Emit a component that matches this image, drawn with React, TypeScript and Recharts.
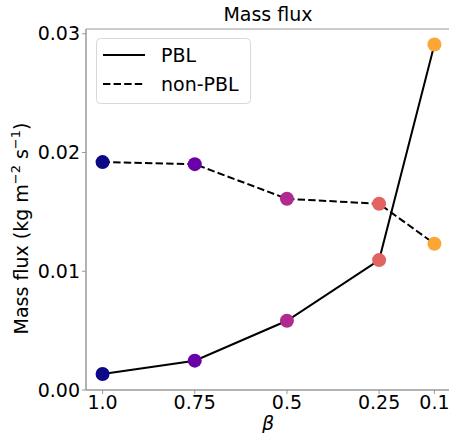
import {
  LineChart,
  Line,
  XAxis,
  YAxis,
  ReferenceArea,
  Legend,
} from 'recharts';

const betas = [1.0, 0.75, 0.5, 0.25, 0.1];
const betaLabels = ['1.0', '0.75', '0.5', '0.25', '0.1'];
const pblFlux = [0.00135, 0.00247, 0.00583, 0.01094, 0.0291];
const nonPblFlux = [0.01919, 0.01902, 0.0161, 0.01568, 0.01232];
const yTicks = [0, 0.01, 0.02, 0.03];
const pointColors = ['#0d0887', '#6a00a8', '#b12a90', '#e16462', '#fca636'];

const FONT = '"DejaVu Sans", sans-serif';
const DASH = '7.4 3.2';

const chartData = betas.map((b, i) => ({
  beta: b,
  pbl: pblFlux[i],
  nonPbl: nonPblFlux[i],
}));

const labelFor = (v: number) => {
  const i = betas.indexOf(v);
  return i >= 0 ? betaLabels[i] : String(v);
};

const ColoredDot = (props: any) => {
  const { cx, cy, index } = props;
  if (cx == null || cy == null) return null;
  return <circle key={index} cx={cx} cy={cy} r={7} fill={pointColors[index]} stroke="none" />;
};

const YLabel = (props: any) => {
  const { viewBox } = props;
  const cy = viewBox.y + viewBox.height / 2 + 19;
  const x = 28;
  return (
    <text
      transform={`rotate(-90, ${x}, ${cy})`}
      x={x}
      y={cy}
      textAnchor="middle"
      fontFamily={FONT}
      fontSize={19}
      fill="#000"
    >
      Mass flux (kg m
      <tspan fontSize={13} dy={-8}>−2</tspan>
      <tspan dy={8}> s</tspan>
      <tspan fontSize={13} dy={-8}>−1</tspan>
      <tspan dy={8}>)</tspan>
    </text>
  );
};

const XLabel = (props: any) => {
  const { viewBox } = props;
  return (
    <text
      x={268}
      y={viewBox.y + 40}
      textAnchor="middle"
      fontFamily={FONT}
      fontSize={19}
      fontStyle="italic"
      fill="#000"
    >
      β
    </text>
  );
};

const LegendBox = () => (
  <svg width={156} height={67} style={{ display: 'block' }}>
    <rect x={0.5} y={0.5} width={154} height={65} rx={4} fill="#fff" stroke="#d8d8d8" />
    <line x1={7} x2={49} y1={17} y2={17} stroke="#000" strokeWidth={2} />
    <text x={65} y={24} fontFamily={FONT} fontSize={19} fill="#000">PBL</text>
    <line x1={7} x2={49} y1={46} y2={46} stroke="#000" strokeWidth={2} strokeDasharray={DASH} />
    <text x={65} y={53} fontFamily={FONT} fontSize={19} fill="#000">non-PBL</text>
  </svg>
);

export default function App() {
  return (
    <div style={{ position: 'absolute', left: 0, top: 0, width: 449, height: 433, overflow: 'hidden', background: '#fff' }}>
      <div
        style={{
          position: 'absolute',
          left: 0,
          top: 3,
          width: 449,
          textAlign: 'center',
          paddingLeft: 87,
          boxSizing: 'border-box',
          fontFamily: FONT,
          fontSize: 19,
          color: '#000',
          lineHeight: '22px',
        }}
      >
        Mass flux
      </div>
      <LineChart
        width={455}
        height={433}
        data={chartData}
        margin={{ top: 29, right: 4, bottom: 0, left: 0 }}
      >
        <ReferenceArea
          x1={1.045}
          x2={0.055}
          y1={0}
          y2={0.0304}
          fill="none"
          stroke="#999"
          strokeWidth={1}
          ifOverflow="visible"
        />
        <XAxis
          dataKey="beta"
          type="number"
          domain={[0.055, 1.045]}
          reversed
          allowDataOverflow
          ticks={betas}
          tickFormatter={labelFor}
          height={43}
          stroke="#999"
          tickSize={4}
          tickLine={{ stroke: '#999' }}
          tick={{ fill: '#000', fontSize: 19, fontFamily: FONT }}
          label={{ content: XLabel }}
        />
        <YAxis
          type="number"
          domain={[0, 0.0304]}
          allowDataOverflow
          ticks={yTicks}
          tickFormatter={(v: number) => v.toFixed(2)}
          width={86}
          stroke="#999"
          tickSize={4}
          tick={{ fill: '#000', fontSize: 19, fontFamily: FONT }}
          label={{ content: YLabel }}
        />
        <Legend
          layout="horizontal"
          verticalAlign="middle"
          align="center"
          wrapperStyle={{ position: 'absolute', left: 96, top: 38, width: 156 }}
          content={LegendBox}
        />
        <Line
          dataKey="pbl"
          stroke="#000"
          strokeWidth={2}
          dot={ColoredDot}
          activeDot={false}
          isAnimationActive={false}
        />
        <Line
          dataKey="nonPbl"
          stroke="#000"
          strokeWidth={2}
          strokeDasharray={DASH}
          dot={ColoredDot}
          activeDot={false}
          isAnimationActive={false}
        />
      </LineChart>
    </div>
  );
}
